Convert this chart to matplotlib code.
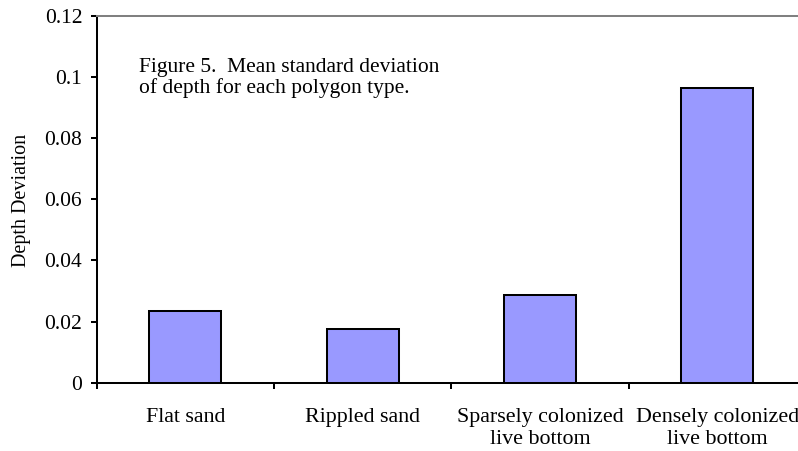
import numpy as np
import matplotlib.pyplot as plt

categories = ['Flat sand', 'Rippled sand', 'Sparsely colonized\nlive bottom', 'Densely colonized\nlive bottom']
values = [0.0236, 0.0176, 0.0288, 0.0964]
yticks = [0, 0.02, 0.04, 0.06, 0.08, 0.1, 0.12]
ytick_labels = ['0', '0.02', '0.04', '0.06', '0.08', '0.1', '0.12']

plt.rcParams['font.family'] = ['Liberation Serif', 'DejaVu Serif']

fig = plt.figure(figsize=(7.98, 4.51), dpi=100)
ax = fig.add_axes([0.1212, 0.1514, 0.8887, 0.8137])

x = np.arange(len(categories))
ax.bar(x, values, width=0.406, color='#9999FF', edgecolor='black', linewidth=1.45, zorder=3)

ax.set_xlim(-0.5, 3.5)
ax.set_ylim(0, 0.12)

ax.set_yticks(yticks)
ax.set_yticklabels(ytick_labels, fontsize=15.5)
ax.tick_params(axis='y', direction='out', length=4.5, width=1.45, pad=6)

ax.set_xticks(x)
ax.set_xticklabels(categories, fontsize=15.8, linespacing=1.2)
ax.set_xticks(np.arange(-0.5, 4, 1), minor=True)
ax.tick_params(axis='x', which='major', length=0, pad=18)
ax.tick_params(axis='x', which='minor', direction='out', length=4, width=1.45)

for s in ['left', 'bottom']:
    ax.spines[s].set_linewidth(1.45)
ax.spines['top'].set_color('#808080')
ax.spines['top'].set_linewidth(1.45)
ax.spines['right'].set_visible(False)

fig.text(22 / 798, 1 - 200 / 451, 'Depth Deviation', rotation=90, ha='center', va='center', fontsize=14.5)

fig.text(139 / 798, 1 - 71.7 / 451, 'Figure 5.  Mean standard deviation', fontsize=15.5, va='baseline')
fig.text(139 / 798, 1 - 93 / 451, 'of depth for each polygon type.', fontsize=15.5, va='baseline')

fig.savefig('out.png', dpi=100)
